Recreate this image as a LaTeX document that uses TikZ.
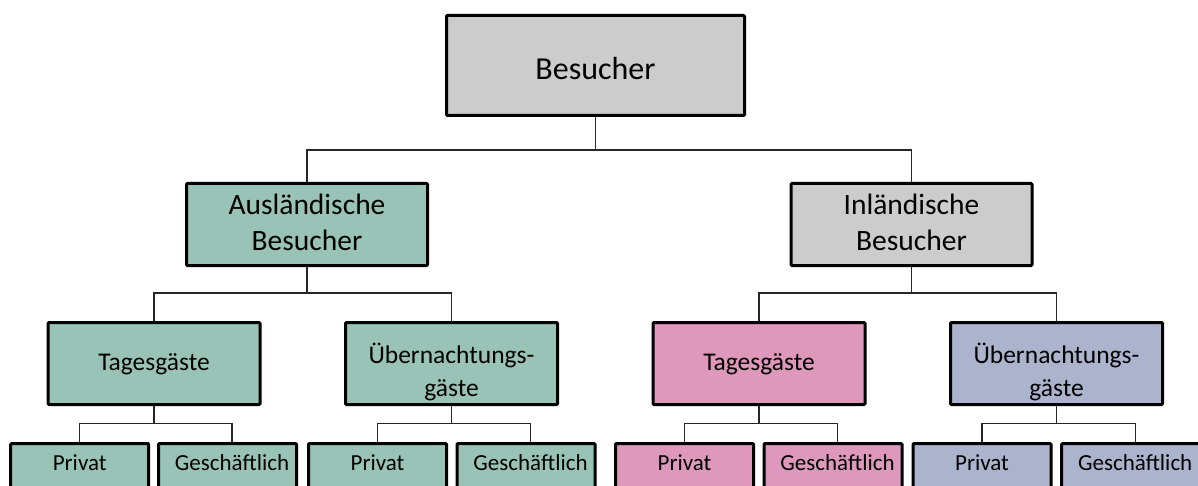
\documentclass[tikz,border=0pt]{standalone}
\usepackage{fontspec}
\setmainfont{Carlito}

\definecolor{boxgray}{HTML}{CCCCCC}
\definecolor{boxteal}{HTML}{9AC3B8}
\definecolor{boxpink}{HTML}{DE98BB}
\definecolor{boxlav}{HTML}{ABB3CD}

% two centred lines whose reference point is the first baseline
\newcommand{\twoline}[2]{\begin{tabular}[t]{@{}c@{}}#1\\#2\end{tabular}}

\tikzset{
  box/.style={draw=black, line width=3pt, rounded corners=1pt, inner sep=0pt},
  lvlone/.style={box, minimum width=298pt, minimum height=100pt,
    font=\fontsize{32}{39}\selectfont, text height=29pt, text depth=0pt},
  lvltwo/.style={box, minimum width=241pt, minimum height=82pt,
    font=\fontsize{29.5}{36.4}\selectfont, text height=0pt, text depth=20.4pt},
  lvlthree/.style={box, minimum width=212pt, minimum height=82pt,
    font=\fontsize{25.5}{32.7}\selectfont, text height=14pt, text depth=0pt},
  lvlthreetwo/.style={lvlthree, text height=0pt, text depth=0pt},
  lvlfour/.style={box, minimum width=138pt, minimum height=80pt,
    font=\fontsize{23}{28}\selectfont, text height=0pt, text depth=27pt},
  conn/.style={line width=1.1pt, draw=black!85},
}

\begin{document}
\begin{tikzpicture}[x=1pt, y=-1pt]
  \useasboundingbox (0,0) rectangle (1198,486);
  \clip (0,0) rectangle (1198,486);

  % top level
  \node[lvlone, fill=boxgray] (root) at (595.5,65.5) {Besucher};

  % second level
  \node[lvltwo, fill=boxteal] (ausl) at (307,224.5) {\twoline{Ausländische}{Besucher}};
  \node[lvltwo, fill=boxgray] (inl) at (911.5,224.5) {\twoline{Inländische}{Besucher}};

  % third level
  \node[lvlthree, fill=boxteal] (tl) at (154,363.5) {Tagesgäste};
  \node[lvlthreetwo, fill=boxteal] (ul) at (451.5,363.5) {\twoline{Übernachtungs-}{gäste}};
  \node[lvlthree, fill=boxpink] (tr) at (759,363.5) {Tagesgäste};
  \node[lvlthreetwo, fill=boxlav] (ur) at (1056.5,363.5) {\twoline{Übernachtungs-}{gäste}};

  % fourth level
  \node[lvlfour, fill=boxteal] (tlp) at (79.7,483.5) {Privat};
  \node[lvlfour, fill=boxteal] (tlg) at (227.5,483.5) {\hspace*{9pt}Geschäftlich};
  \node[lvlfour, fill=boxteal] (ulp) at (377.5,483.5) {Privat};
  \node[lvlfour, fill=boxteal] (ulg) at (526,483.5) {\hspace*{9pt}Geschäftlich};
  \node[lvlfour, fill=boxpink] (trp) at (684.5,483.5) {Privat};
  \node[lvlfour, fill=boxpink] (trg) at (833,483.5) {\hspace*{9pt}Geschäftlich};
  \node[lvlfour, fill=boxlav] (urp) at (982,483.5) {Privat};
  \node[lvlfour, fill=boxlav] (urg) at (1130.7,483.5) {\hspace*{9pt}Geschäftlich};

  % connectors
  \draw[conn] (root.south) -- ++(0,33) -| (ausl.north);
  \draw[conn] (root.south) -- ++(0,33) -| (inl.north);

  \draw[conn] (ausl.south) -- ++(0,26) -| (tl.north);
  \draw[conn] (ausl.south) -- ++(0,26) -| (ul.north);
  \draw[conn] (inl.south) -- ++(0,26) -| (tr.north);
  \draw[conn] (inl.south) -- ++(0,26) -| (ur.north);

  \draw[conn] (tl.south) -- ++(0,17.5) -| (tlp.north);
  \draw[conn] (tl.south) -- ++(0,17.5) -| ([xshift=4.5pt]tlg.north);
  \draw[conn] (ul.south) -- ++(0,17.5) -| (ulp.north);
  \draw[conn] (ul.south) -- ++(0,17.5) -| ([xshift=4.5pt]ulg.north);
  \draw[conn] (tr.south) -- ++(0,17.5) -| (trp.north);
  \draw[conn] (tr.south) -- ++(0,17.5) -| ([xshift=4.5pt]trg.north);
  \draw[conn] (ur.south) -- ++(0,17.5) -| (urp.north);
  \draw[conn] (ur.south) -- ++(0,17.5) -| ([xshift=4.5pt]urg.north);
\end{tikzpicture}
\end{document}
